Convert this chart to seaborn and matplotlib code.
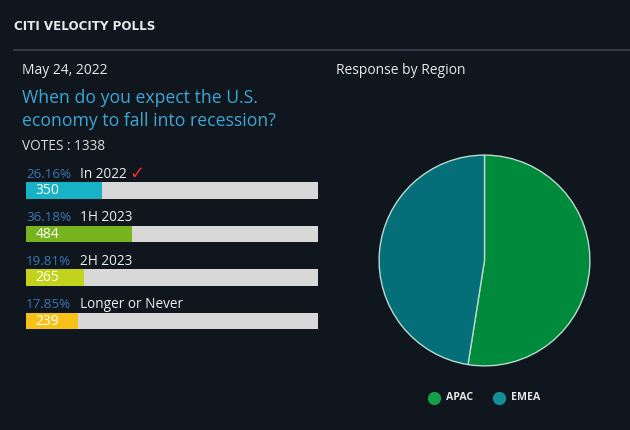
import matplotlib
matplotlib.use("Agg")
import matplotlib.pyplot as plt
import seaborn as sns
import pandas as pd

# ---- data ----
options = ["In 2022", "1H 2023", "2H 2023", "Longer or Never"]
votes = [350, 484, 265, 239]
percents = [26.16, 36.18, 19.81, 17.85]
total_votes = 1338
bar_colors = ["#17b2c4", "#78b41e", "#c3d21a", "#f6c21a"]

regions = ["APAC", "EMEA"]
region_share = [52.5, 47.5]
region_colors = ["#008a3c", "#046f78"]

BG = "#10161e"
sns.set_theme(style="white")
plt.rcParams["font.family"] = ["Open Sans", "DejaVu Sans"]

fig = plt.figure(figsize=(6.3, 4.3), dpi=100, facecolor=BG)
W, H = 630, 430

def fx(px):
    return px / W

def fy(py):
    return 1 - py / H

# header
fig.text(fx(14), fy(27), "CITI VELOCITY POLLS", color="#e6e8ea", fontsize=8.6,
         fontweight="bold", va="center", ha="left", family=["DejaVu Sans"])
fig.add_artist(plt.Line2D([fx(14), 1.0], [fy(50), fy(50)], color="#3a4350", lw=1.2))

fig.text(fx(22), fy(71), "May 24, 2022", color="#e8e8e8", fontsize=10, va="center")
fig.text(fx(22), fy(98), "When do you expect the U.S.", color="#3fa6d4", fontsize=12.7, va="center")
fig.text(fx(22), fy(121), "economy to fall into recession?", color="#3fa6d4", fontsize=12.7, va="center")
fig.text(fx(22), fy(147), "VOTES : " + str(total_votes), color="#dcdcdc", fontsize=9.8, va="center")
fig.text(fx(336), fy(71), "Response by Region", color="#e8e8e8", fontsize=10, va="center")

# ---- bars ----
ax = fig.add_axes([fx(26), fy(342.75), 292 / W, 174 / H])
ax.set_facecolor(BG)
df = pd.DataFrame({"option": options, "pct": percents, "votes": votes,
                   "full": [100] * len(options)})
sns.barplot(data=df, x="full", y="option", color="#d8d8d8", width=0.37,
            ax=ax, saturation=1, linewidth=0, edgecolor="none")
sns.barplot(data=df, x="pct", y="option", hue="option", palette=bar_colors,
            width=0.37, ax=ax, legend=False, saturation=1, linewidth=0,
            edgecolor="none")
ax.set_xlim(0, 100)
ax.set_ylim(3.5, -0.5)
ax.axis("off")
for i, (opt, p, v) in enumerate(zip(options, percents, votes)):
    ax.text(0, i - 0.37, f"{p:.2f}%", color="#3b78b4", fontsize=9.6, va="center", ha="left")
    ax.text(18.5, i - 0.37, opt, color="#eeeeee", fontsize=9.8, va="center", ha="left")
    ax.text(3.3, i + 0.01, str(v), color="#ffffff", fontsize=10, va="center", ha="left")
ax.text(35.4, -0.39, "\u2713", color="#e6302a", fontsize=13, va="center", ha="left",
        family=["DejaVu Sans"])

# ---- pie ----
pax = fig.add_axes([fx(377), fy(368), 215 / W, 215 / H])
pax.set_facecolor(BG)
pax.pie(region_share, colors=region_colors, startangle=90, counterclock=False,
        radius=1, wedgeprops=dict(edgecolor="#b9d9cc", linewidth=1.0))
pax.set_xlim(-1.02, 1.02)
pax.set_ylim(-1.02, 1.02)
pax.set_aspect("equal")
pax.axis("off")

# legend
for (name, col, x) in zip(regions, region_colors, [434, 499]):
    fig.add_artist(plt.Line2D([fx(x)], [fy(398)], marker="o", markersize=8.5,
                              color="#13a24a" if name == "APAC" else "#138f98", lw=0))
    fig.text(fx(x + 12), fy(398), name, color="#e6e6e6", fontsize=7.6,
             fontweight="bold", va="center", ha="left")

fig.savefig("out.png", dpi=100, facecolor=BG)
